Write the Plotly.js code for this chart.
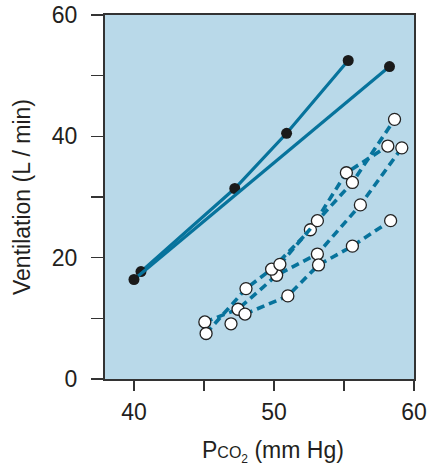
<!DOCTYPE html>
<html>
<head>
<meta charset="utf-8">
<script src="https://cdn.plot.ly/plotly-3.0.1.min.js"></script>
<style>html,body{margin:0;padding:0;background:#fff;}#chart{width:430px;height:467px;}</style>
</head>
<body>
<div id="chart"></div>
<script>
// Solid lines (filled markers)
const solid1X = [40.5, 47.2, 50.9, 55.3];
const solid1Y = [17.7, 31.4, 40.5, 52.5];
const solid2X = [40.0, 58.25];
const solid2Y = [16.4, 51.5];
// Dashed series (open markers)
const dash1X = [45.06, 47.43, 50.19, 53.1, 56.17, 59.13];
const dash1Y = [9.4, 11.5, 17.1, 20.6, 28.7, 38.1];
const dash2X = [45.15, 48.0, 49.83, 52.6, 55.17, 58.13];
const dash2Y = [7.5, 14.9, 18.1, 24.6, 34.0, 38.4];
const dash3X = [50.42, 53.1, 55.6, 58.61];
const dash3Y = [18.9, 26.1, 32.4, 42.8];
const dash4X = [47.93, 50.99, 53.18, 55.6, 58.33];
const dash4Y = [10.7, 13.7, 18.8, 21.9, 26.1];
const loneX = [46.93];
const loneY = [9.1];

const xTickVals = [40, 50, 60];
const xTickText = ['40', '50', '60'];
const xMinorVals = [45, 55];
const yTickVals = [0, 20, 40, 60];
const yTickText = ['0', '20', '40', '60'];
const yMinorVals = [10, 30, 50];
const xTitle = 'P<span style="font-size:16px">CO</span><sub><span style="font-size:12px">2</span></sub> (mm Hg)';
const yTitle = 'Ventilation (L / min)';

const lineColor = '#07739c';
const solidTrace = (x, y) => ({
  x, y, type: 'scatter', mode: 'lines+markers',
  line: {color: lineColor, width: 3.2},
  marker: {color: '#1a1a1a', size: 11, line: {width: 0}},
  hoverinfo: 'skip', showlegend: false
});
const dashTrace = (x, y) => ({
  x, y, type: 'scatter', mode: 'lines+markers',
  line: {color: lineColor, width: 3.6, dash: '8px,5px'},
  marker: {color: '#ffffff', size: 12, line: {color: '#222', width: 1.3}},
  hoverinfo: 'skip', showlegend: false
});

const data = [
  solidTrace(solid1X, solid1Y),
  solidTrace(solid2X, solid2Y),
  dashTrace(dash1X, dash1Y),
  dashTrace(dash2X, dash2Y),
  dashTrace(dash3X, dash3Y),
  dashTrace(dash4X, dash4Y),
  dashTrace(loneX, loneY)
];

const fam = 'Liberation Sans, Arial, sans-serif';
const txt = '#231f20';
const tf = {family: fam, color: txt, size: 23};
const layout = {
  width: 430, height: 467,
  margin: {l: 105, r: 16, t: 15, b: 88},
  paper_bgcolor: '#ffffff',
  plot_bgcolor: '#b9d9e9',
  font: {family: fam, color: txt, size: 23},
  xaxis: {
    range: [37.93, 60], tickvals: xTickVals, ticktext: xTickText,
    ticks: 'outside', ticklen: 10, tickwidth: 1.3, tickcolor: '#333',
    minor: {tickvals: xMinorVals, ticks: 'outside', ticklen: 10, tickwidth: 1.3, tickcolor: '#333'},
    showline: true, linecolor: '#333', linewidth: 2, mirror: true,
    showgrid: false, zeroline: false, ticklabelstandoff: 1,
    tickfont: tf
  },
  yaxis: {
    range: [0, 60], tickvals: yTickVals, ticktext: yTickText,
    ticks: 'outside', ticklen: 12, tickwidth: 1.3, tickcolor: '#333',
    minor: {tickvals: yMinorVals, ticks: 'outside', ticklen: 12, tickwidth: 1.3, tickcolor: '#333'},
    showline: true, linecolor: '#333', linewidth: 2, mirror: true,
    showgrid: false, zeroline: false, ticklabelstandoff: 9,
    tickfont: tf
  },
  annotations: [
    {text: xTitle, xref: 'x', x: 49.95, yref: 'paper', y: (379 - 451) / 364,
     xanchor: 'center', yanchor: 'middle', showarrow: false, font: tf},
    {text: yTitle, xref: 'paper', x: (22 - 105) / 309, yref: 'paper', y: 0.5,
     xanchor: 'center', yanchor: 'middle', textangle: -90, showarrow: false, font: tf}
  ]
};

Plotly.newPlot('chart', data, layout, {displayModeBar: false, staticPlot: true});
</script>
</body>
</html>
